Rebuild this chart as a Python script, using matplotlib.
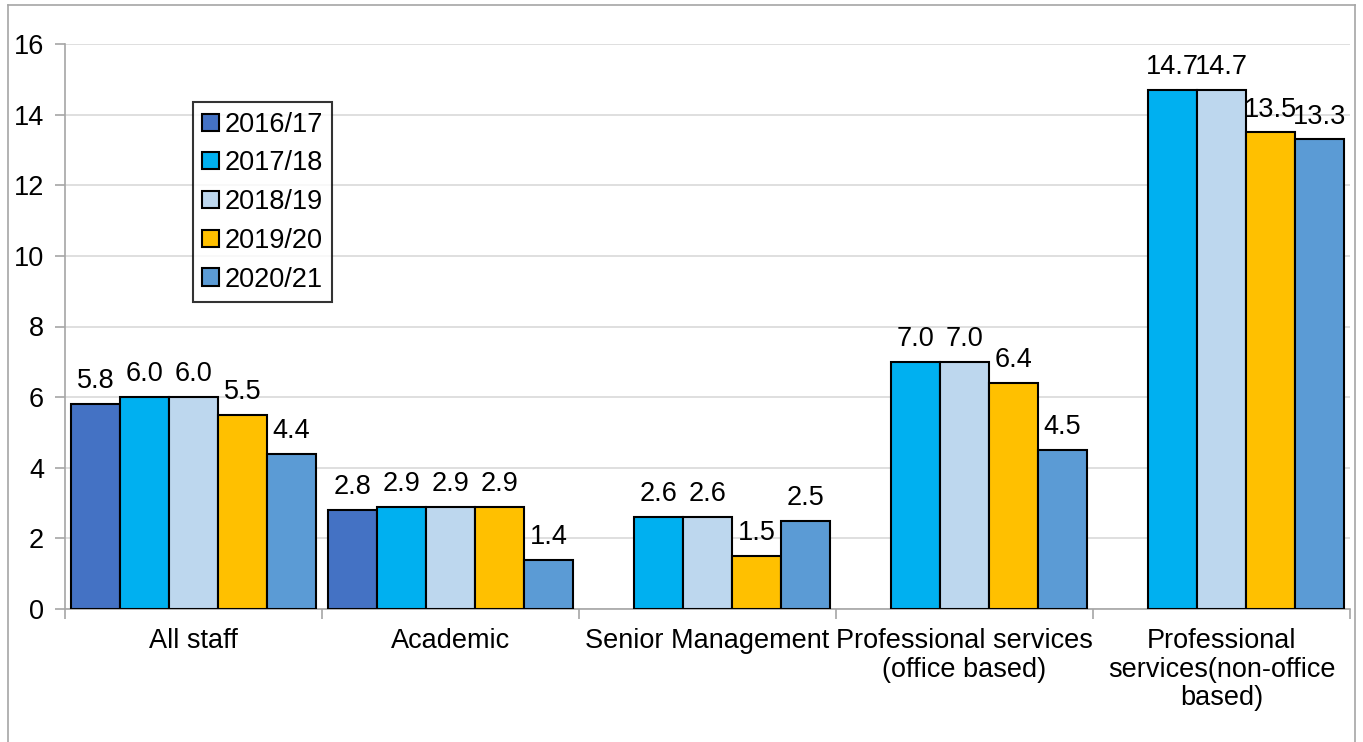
import numpy as np
import matplotlib.pyplot as plt
from matplotlib.lines import Line2D

plt.rcParams['font.family'] = ['Liberation Sans', 'DejaVu Sans']

# data
categories = ["All staff", "Academic", "Senior Management",
              "Professional services\n(office based)",
              "Professional\nservices(non-office\nbased)"]
years = ["2016/17", "2017/18", "2018/19", "2019/20", "2020/21"]
v_2016 = [5.8, 2.8, np.nan, np.nan, np.nan]
v_2017 = [6.0, 2.9, 2.6, 7.0, 14.7]
v_2018 = [6.0, 2.9, 2.6, 7.0, 14.7]
v_2019 = [5.5, 2.9, 1.5, 6.4, 13.5]
v_2020 = [4.4, 1.4, 2.5, 4.5, 13.3]
series = [v_2016, v_2017, v_2018, v_2019, v_2020]
colors = ["#4472C4", "#00B0F0", "#BDD7EE", "#FFC000", "#5B9BD5"]

fs = 19.5

fig = plt.figure(figsize=(13.63, 7.42), dpi=100)
ax = fig.add_axes([65 / 1363, 133 / 742, 1285 / 1363, 565 / 742])

x = np.arange(len(categories))
w = 0.191
for i, (vals, col, lab) in enumerate(zip(series, colors, years)):
    pos = x + (i - 2) * w
    ax.bar(pos, vals, width=w, color=col, edgecolor="black",
           linewidth=1.5, label=lab, zorder=3)
    for xp, v in zip(pos, vals):
        if not np.isnan(v):
            ax.annotate(f"{v:.1f}", (xp, v), xytext=(0, 7),
                        textcoords="offset points", ha="center", va="bottom",
                        fontsize=fs)

ax.set_xlim(-0.5, len(categories) - 0.5)
ax.set_ylim(0, 16)
ax.set_yticks(range(0, 17, 2))
ax.grid(axis="y", color="#D9D9D9", linewidth=1.2, zorder=0)
ax.set_axisbelow(True)

ax.set_xticks(np.arange(-0.5, len(categories)), labels=[])
ax.set_xticks(x, labels=categories, minor=True)
for t in ax.get_xticklabels(minor=True):
    t.set_linespacing(1.12)
ax.tick_params(axis="x", which="major", length=7, color="#A6A6A6", width=1.2)
ax.tick_params(axis="x", which="minor", length=0, pad=14, labelsize=fs)
ax.tick_params(axis="y", length=7, color="#A6A6A6", width=1.2, labelsize=fs, pad=8)

for s in ["top", "right"]:
    ax.spines[s].set_visible(False)
for s in ["left", "bottom"]:
    ax.spines[s].set_color("#A6A6A6")
    ax.spines[s].set_linewidth(1.2)

leg = ax.legend(loc="upper left", bbox_to_anchor=(0.0996, 0.897),
                fontsize=fs, frameon=True, fancybox=False, edgecolor="black",
                handlelength=0.6, handleheight=0.6, handletextpad=0.2,
                labelspacing=0.47, borderpad=0.35, borderaxespad=0)
leg.get_frame().set_linewidth(1.5)

# chart area border
border = dict(color="#A6A6A6", linewidth=1.2, transform=fig.transFigure)
fig.add_artist(Line2D([8 / 1363, 8 / 1363], [0, 737 / 742], **border))
fig.add_artist(Line2D([1355 / 1363, 1355 / 1363], [0, 737 / 742], **border))
fig.add_artist(Line2D([8 / 1363, 1355 / 1363], [737 / 742, 737 / 742], **border))

plt.savefig("out.png", dpi=100)
